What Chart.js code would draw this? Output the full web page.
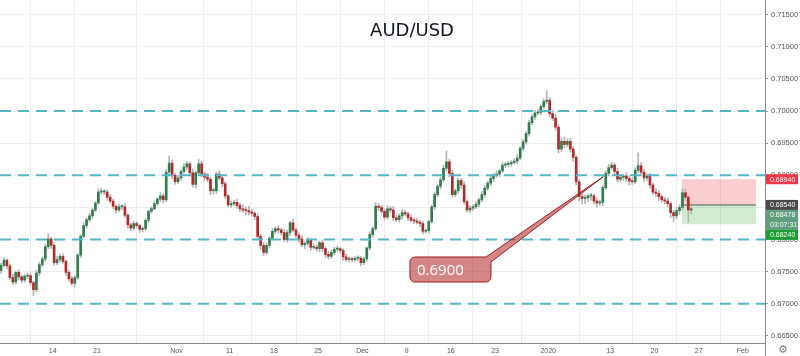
<!DOCTYPE html>
<html><head><meta charset="utf-8">
<script src="https://cdn.jsdelivr.net/npm/chart.js@4.4.1/dist/chart.umd.min.js"></script>
<style>html,body{margin:0;padding:0;background:#fff;}#wrap{width:800px;height:356px;position:relative;}</style>
</head><body><div id="wrap"><canvas id="c" width="800" height="356"></canvas></div>
<script>
// AUD/USD closes in pips (x 1e-4), three candles per trading day
const closes = [
6760,6768,6759,6741,6734,6749,6742,6737,6743,6744,
6733,6722,6748,6761,6770,6789,6801,6791,6764,6769,
6774,6766,6749,6739,6732,6741,6776,6805,6822,6831,
6837,6846,6857,6874,6874,6874,6866,6860,6852,6846,
6851,6851,6838,6823,6818,6825,6822,6816,6817,6830,
6844,6848,6856,6863,6868,6862,6905,6919,6900,6890,
6896,6906,6913,6918,6904,6886,6904,6918,6902,6897,
6894,6876,6876,6902,6896,6887,6868,6854,6856,6858,
6853,6848,6846,6845,6843,6841,6836,6805,6791,6780,
6791,6802,6813,6817,6815,6811,6800,6811,6826,6815,
6807,6801,6792,6794,6799,6788,6788,6786,6795,6786,
6777,6774,6780,6785,6786,6783,6773,6769,6770,6769,
6771,6771,6764,6770,6787,6808,6817,6852,6850,6844,
6835,6848,6846,6834,6831,6837,6842,6840,6834,6830,
6829,6827,6825,6813,6814,6828,6851,6870,6883,6893,
6911,6921,6903,6870,6876,6892,6885,6859,6846,6849,
6851,6855,6862,6870,6880,6888,6895,6900,6902,6907,
6916,6917,6918,6920,6922,6927,6942,6952,6965,6982,
6991,6997,6998,7007,7015,7017,6996,6989,6975,6941,
6953,6948,6953,6941,6928,6890,6867,6864,6865,6868,
6868,6860,6857,6858,6881,6903,6912,6916,6906,6894,
6897,6899,6895,6891,6890,6908,6915,6905,6896,6899,
6885,6874,6872,6867,6862,6860,6856,6842,6837,6845,
6850,6873,6866,6846,6848];
const firstOpen = 6752;
// upper / lower wick lengths in pips beyond the body
const highExt = [
3,4,2,3,5,2,4,3,3,4, 3,2,5,4,3,4,8,3,4,5, 3,4,2,3,4,3,2,3,4,3, 4,3,2,5,6,4,3,4,3,2,
4,3,5,2,3,4,3,2,3,3, 2,3,4,3,5,3,4,11,5,3, 4,3,5,4,3,6,3,7,4,3, 6,3,4,3,5,4,3,2,4,3,
5,4,6,5,7,4,3,4,3,5, 4,3,5,3,4,3,5,4,3,6, 3,4,5,3,4,3,5,4,3,4, 3,5,4,3,4,2,3,4,3,2,
3,4,3,3,2,4,3,6,4,3, 4,5,3,6,4,3,5,4,3,4, 3,4,3,4,3,2,3,4,3,4, 5,17,4,5,3,4,3,5,3,4,
3,4,3,5,4,3,4,3,5,3, 4,3,4,3,4,5,3,4,3,4, 3,4,5,3,4,15,4,5,6,4, 5,6,4,5,4,3,4,5,4,3,
4,3,5,4,3,4,5,4,3,5, 4,3,5,4,6,4,20,5,4,3, 4,3,5,4,3,4,5,3,4,5, 4,5,6,3,2];
const lowExt = [
4,3,5,3,4,3,5,4,3,4, 4,9,3,4,3,4,3,5,4,3, 4,3,5,4,3,6,3,4,3,4, 3,4,3,2,3,4,5,3,4,5,
3,4,3,5,4,3,4,5,4,3, 4,3,2,3,4,5,3,4,5,4, 3,4,3,4,5,4,6,3,4,5, 4,6,5,4,3,5,4,3,4,3,
4,5,4,6,5,4,5,4,6,5, 3,4,3,4,5,4,3,4,5,3, 4,5,3,6,4,5,3,4,5,4, 5,4,3,4,3,4,5,3,4,4,
3,4,5,3,4,3,4,3,5,4, 5,3,4,5,3,4,5,3,4,3, 4,3,5,4,3,4,3,4,3,4, 3,4,5,4,3,4,5,4,3,4,
4,3,4,3,4,3,4,5,3,4, 3,4,3,4,3,4,3,4,3,4, 3,4,3,4,3,4,5,4,5,6, 4,5,4,5,6,5,7,9,8,6,
7,5,6,4,5,3,4,3,5,4, 4,5,4,6,4,3,4,5,6,4, 5,4,5,6,4,5,5,8,9,5, 6,4,5,19,6];
const firstDay = -1;          // trading-day index of first candle (Oct 14 = 5)
const candlesPerDay = 3;

// x axis: trading-day index -> label
const tickDays   = [5, 10, 19, 25, 30, 35, 40, 45, 50, 55, 61, 68, 73, 78, 83];
const tickLabels = ['14','21','Nov','11','18','25','Dec','9','16','23','2020','13','20','27','Feb'];
const xMin = -0.95, xMax = 85.5;

// y axis
const yTicks = [0.665,0.670,0.675,0.680,0.685,0.690,0.695,0.700,0.705,0.710,0.715];
const yMin = 0.66391, yMax = 0.71729;

// horizontal dashed levels
const levels = [0.700, 0.690, 0.680, 0.670];

// long position tool
const position = {startDay: 76.1, endDay: 84.47, stop: 0.6894, entry: 0.6854, target: 0.6824};
const lastPrice = 0.68478;
const countdown = '03:07:31';

// callout annotation (data coordinates)
const callout = {text: '0.6900', left: 45.38, right: 54.53, top: 0.677294, bottom: 0.673403, tipDay: 67.22, tipPrice: 0.68979};
const title = 'AUD/USD';

const candles = closes.map((c, i) => {
  const o = i ? closes[i - 1] : firstOpen;
  return {
    d: firstDay + (i + 0.5) / candlesPerDay,
    o: o / 1e4, c: c / 1e4,
    h: (Math.max(o, c) + highExt[i]) / 1e4,
    l: (Math.min(o, c) - lowExt[i]) / 1e4
  };
});

const levelSets = levels.map(lv => ({
  type: 'line',
  data: [{x: xMin, y: lv}, {x: xMax, y: lv}],
  borderColor: '#55b6cb', borderWidth: 2, borderDash: [11, 7],
  pointRadius: 0, fill: false, order: 0
}));

const noPad = s => { s.paddingTop = 0; s.paddingBottom = 0; s.paddingLeft = 0; s.paddingRight = 0; };

const overlay = {
  id: 'overlay',
  beforeDatasetsDraw(chart) {
    const ctx = chart.ctx, xs = chart.scales.x, ys = chart.scales.y;
    const x1 = xs.getPixelForValue(position.startDay), x2 = xs.getPixelForValue(position.endDay);
    const yS = ys.getPixelForValue(position.stop), yE = ys.getPixelForValue(position.entry), yT = ys.getPixelForValue(position.target);
    ctx.save();
    ctx.fillStyle = 'rgba(242,54,69,0.25)';
    ctx.fillRect(x1, yS, x2 - x1, yE - yS);
    ctx.fillStyle = 'rgba(76,175,80,0.25)';
    ctx.fillRect(x1, yE, x2 - x1, yT - yE);
    ctx.strokeStyle = 'rgba(110,130,110,0.9)';
    ctx.lineWidth = 1.5;
    ctx.beginPath(); ctx.moveTo(x1, yE); ctx.lineTo(x2, yE); ctx.stroke();
    ctx.restore();
  },
  afterDatasetsDraw(chart) {
    const ctx = chart.ctx, xs = chart.scales.x, ys = chart.scales.y;
    const L = xs.getPixelForValue(callout.left), R = xs.getPixelForValue(callout.right);
    const T = ys.getPixelForValue(callout.top), B = ys.getPixelForValue(callout.bottom);
    const tx = xs.getPixelForValue(callout.tipDay), ty = ys.getPixelForValue(callout.tipPrice);
    const r = 5;
    ctx.save();
    ctx.beginPath();
    ctx.moveTo(L + r, T);
    ctx.lineTo(R - 5, T);
    ctx.lineTo(tx, ty);
    ctx.lineTo(R, T + 5);
    ctx.lineTo(R, B - r);
    ctx.arcTo(R, B, R - r, B, r);
    ctx.lineTo(L + r, B);
    ctx.arcTo(L, B, L, B - r, r);
    ctx.lineTo(L, T + r);
    ctx.arcTo(L, T, L + r, T, r);
    ctx.closePath();
    ctx.fillStyle = 'rgba(178,34,34,0.55)';
    ctx.fill();
    ctx.strokeStyle = '#9e2020';
    ctx.lineWidth = 1;
    ctx.stroke();
    ctx.fillStyle = '#ffffff';
    ctx.font = '15px "Open Sans", sans-serif';
    ctx.textBaseline = 'middle';
    ctx.textAlign = 'left';
    ctx.fillText(callout.text, L + 7, (T + B) / 2 + 1);
    ctx.restore();
  },
  afterDraw(chart) {
    const ctx = chart.ctx, ys = chart.scales.y, ca = chart.chartArea;
    ctx.save();
    // title
    ctx.fillStyle = '#131722';
    ctx.font = '18px "DejaVu Sans", sans-serif';
    ctx.textAlign = 'center';
    ctx.textBaseline = 'middle';
    ctx.fillText(title, 412, 31);
    // axis divider continuing to bottom
    ctx.strokeStyle = '#8a8a8a'; ctx.lineWidth = 1;
    ctx.beginPath(); ctx.moveTo(Math.round(ca.right) + 0.5, ca.bottom); ctx.lineTo(Math.round(ca.right) + 0.5, 356); ctx.stroke();
    // price tags
    const tags = [
      {v: position.stop, lines: ['0.68940'], bg: '#f23645'},
      {v: position.entry, lines: ['0.68540'], bg: '#4a4a4a'},
      {v: lastPrice, lines: [lastPrice.toFixed(5), countdown], bg: '#5f9f7d'},
      {v: position.target, lines: ['0.68240'], bg: '#1f9d35'}
    ];
    const lh = 10;
    let prevBottom = -1e9;
    ctx.font = '7px "Liberation Sans", sans-serif';
    ctx.textAlign = 'left';
    for (const t of tags) {
      const y = ys.getPixelForValue(t.v);
      let top = y - lh / 2;
      if (top < prevBottom) top = prevBottom;
      const h = lh * t.lines.length;
      ctx.fillStyle = t.bg;
      ctx.fillRect(ca.right + 1, top, 32, h);
      ctx.fillStyle = '#ffffff';
      t.lines.forEach((s, i) => ctx.fillText(s, ca.right + 5, top + lh * i + lh / 2 + 0.5));
      prevBottom = top + h;
    }
    // settings gear
    ctx.fillStyle = '#777';
    ctx.font = '11px "DejaVu Sans", sans-serif';
    ctx.textAlign = 'center';
    ctx.fillText('\u2699', 783, 350);
    ctx.restore();
  }
};

new Chart(document.getElementById('c'), {
  type: 'bar',
  data: {
    datasets: [
      ...levelSets,
      {
        type: 'bar', label: 'body',
        data: candles.map(k => ({x: k.d, y: [k.o, k.c]})),
        backgroundColor: ctx => { const r = ctx.raw; return r && r.y[1] >= r.y[0] ? '#2f7d4c' : '#b02a2a'; },
        borderWidth: 0, barThickness: 2, minBarLength: 1, grouped: false, order: 1
      },
      {
        type: 'bar', label: 'wick',
        data: candles.map(k => ({x: k.d, y: [k.l, k.h]})),
        backgroundColor: '#b4b4b4', borderWidth: 0, barThickness: 1, grouped: false, order: 2
      }
    ]
  },
  options: {
    animation: false, responsive: false, maintainAspectRatio: false,
    layout: {padding: 0},
    plugins: {legend: {display: false}, tooltip: {enabled: false}, title: {display: false}},
    scales: {
      x: {
        type: 'linear', min: xMin, max: xMax, offset: false,
        afterBuildTicks: s => { s.ticks = tickDays.map(v => ({value: v})); },
        afterFit: s => { s.height = 13; noPad(s); },
        ticks: {
          callback: (v, i) => tickLabels[i], autoSkip: false, maxRotation: 0,
          font: {size: 7, family: '"Liberation Sans", sans-serif'}, color: '#555', padding: 4
        },
        grid: {color: '#eeeeee', drawTicks: false},
        border: {color: '#8a8a8a'}
      },
      y: {
        position: 'right', min: yMin, max: yMax,
        afterBuildTicks: s => { s.ticks = yTicks.map(v => ({value: v})); },
        afterFit: s => { s.width = 35; noPad(s); },
        ticks: {
          callback: v => Number(v).toFixed(5),
          font: {size: 7.5, family: '"Liberation Sans", sans-serif'}, color: '#555', padding: 3
        },
        grid: {color: '#eeeeee', tickLength: 3, tickColor: '#999'},
        border: {color: '#8a8a8a'}
      }
    }
  },
  plugins: [overlay]
});
</script>
</body></html>
